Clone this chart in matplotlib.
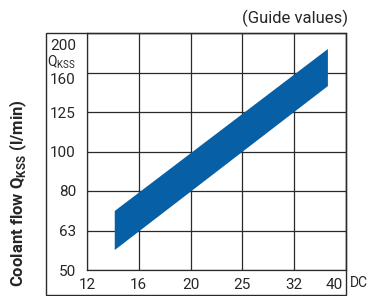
import numpy as np
import matplotlib
matplotlib.use("Agg")
import matplotlib.pyplot as plt
import matplotlib.transforms as mtransforms
from matplotlib.patches import Rectangle

# ---- data ----
x_ticks = [12, 16, 20, 25, 32, 40]
x_tick_labels = ["12", "16", "20", "25", "32", "40"]
y_ticks = [50, 63, 80, 100, 125, 160, 200]
y_tick_labels = ["50", "63", "80", "100", "125", "160", "200"]
band_x = [14, 37, 37, 14]
band_y = [70.9, 182.7, 147, 56.2]

FONT = ["Roboto", "DejaVu Sans"]
plt.rcParams["font.family"] = FONT
plt.rcParams["mathtext.fontset"] = "custom"
plt.rcParams["mathtext.rm"] = "Roboto"
plt.rcParams["mathtext.bf"] = "Roboto:bold"
TXT = "#262626"
BLUE = "#075FA6"

W, H = 369, 296
fig = plt.figure(figsize=(W / 100, H / 100), dpi=100)

L, R, T, B = 87, 346, 33, 270
ax = fig.add_axes([L / W, 1 - B / H, (R - L) / W, (B - T) / H])


def make_scale(ticks):
    lt = np.log(np.asarray(ticks, float))
    idx = np.arange(len(ticks), dtype=float)

    def fwd(v):
        v = np.clip(np.asarray(v, float), 1e-9, None)
        lv = np.log(v)
        slope_lo = 1 / (lt[1] - lt[0])
        slope_hi = 1 / (lt[-1] - lt[-2])
        out = np.interp(lv, lt, idx)
        out = np.where(lv < lt[0], (lv - lt[0]) * slope_lo, out)
        out = np.where(lv > lt[-1], idx[-1] + (lv - lt[-1]) * slope_hi, out)
        return out

    def inv(p):
        p = np.asarray(p, float)
        out = np.interp(p, idx, lt)
        out = np.where(p < 0, lt[0] + p * (lt[1] - lt[0]), out)
        out = np.where(p > idx[-1], lt[-1] + (p - idx[-1]) * (lt[-1] - lt[-2]), out)
        return np.exp(out)

    return fwd, inv


ax.set_xscale("function", functions=make_scale(x_ticks))
ax.set_yscale("function", functions=make_scale(y_ticks))
ax.set_xlim(x_ticks[0], x_ticks[-1])
ax.set_ylim(y_ticks[0], y_ticks[-1])

ax.fill(band_x, band_y, color=BLUE, lw=0, zorder=2)

ax.set_xticks(x_ticks)
ax.set_xticklabels(x_tick_labels)
ax.set_yticks(y_ticks)
ax.set_yticklabels(y_tick_labels)
ax.minorticks_off()
ax.tick_params(length=0, labelsize=11, colors=TXT)
ax.tick_params(axis="x", pad=6)
ax.tick_params(axis="y", pad=8)
ax.grid(True, color="#2a2a2a", lw=0.9, zorder=1)
ax.set_axisbelow(True)
for s in ax.spines.values():
    s.set_color("#2a2a2a")
    s.set_linewidth(0.9)

# shift some labels
for lab in ax.get_xticklabels():
    if lab.get_text() == "40":
        lab.set_transform(lab.get_transform() + mtransforms.ScaledTranslation(-12 / 100, 0, fig.dpi_scale_trans))
for lab in ax.get_yticklabels():
    t = lab.get_text()
    if t == "200":
        lab.set_transform(lab.get_transform() + mtransforms.ScaledTranslation(0, -12 / 100, fig.dpi_scale_trans))
    if t == "160":
        lab.set_transform(lab.get_transform() + mtransforms.ScaledTranslation(0, -6 / 100, fig.dpi_scale_trans))

# Q_KSS label under 200
fig.text(76 / W, 1 - 62 / H, r"Q$_{\mathregular{KSS}}$", ha="right", va="center",
         fontsize=10, color=TXT)

# DC
fig.text(350 / W, 1 - 283 / H, "DC", ha="left", va="center", fontsize=10, color=TXT)

# Guide values
fig.text(348 / W, 1 - 18 / H, "(Guide values)", ha="right", va="center", fontsize=12, color=TXT)

# y label
fig.text(18 / W, 1 - 193 / H, r"Coolant flow Q$_{\mathbf{KSS}}$ (l/min)", rotation=90,
         ha="center", va="center", fontsize=12, fontweight="bold", color=TXT)

# outer box
fig.add_artist(Rectangle((46 / W, 1 - 295 / H), (346 - 46) / W, (295 - 33) / H,
                         transform=fig.transFigure, fill=False, lw=1.0, ec="#2a2a2a"))

fig.savefig("out.png", dpi=100)
